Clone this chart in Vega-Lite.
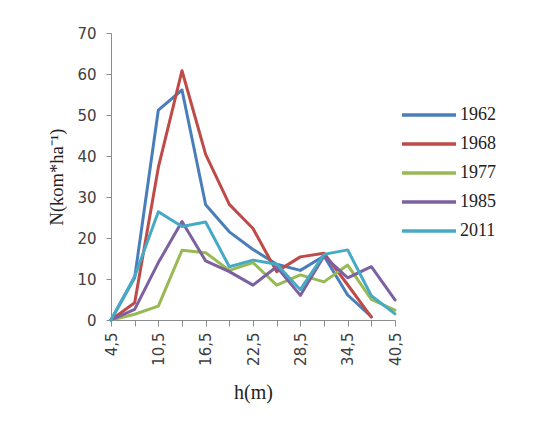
{
  "$schema": "https://vega.github.io/schema/vega-lite/v6.json",
  "width": 284,
  "height": 287,
  "padding": {"left": 47, "top": 26, "right": 5, "bottom": 5},
  "background": "white",
  "data": {"values": [
    {"year": "1962", "h": 4.5, "N": 0}, {"year": "1962", "h": 7.5, "N": 10.3}, {"year": "1962", "h": 10.5, "N": 51.2}, {"year": "1962", "h": 13.5, "N": 56.1}, {"year": "1962", "h": 16.5, "N": 28.1}, {"year": "1962", "h": 19.5, "N": 21.5}, {"year": "1962", "h": 22.5, "N": 17.2}, {"year": "1962", "h": 25.5, "N": 13.6}, {"year": "1962", "h": 28.5, "N": 12.1}, {"year": "1962", "h": 31.5, "N": 15.6}, {"year": "1962", "h": 34.5, "N": 6.1}, {"year": "1962", "h": 37.5, "N": 0.8},
    {"year": "1968", "h": 4.5, "N": 0}, {"year": "1968", "h": 7.5, "N": 4.2}, {"year": "1968", "h": 10.5, "N": 37.2}, {"year": "1968", "h": 13.5, "N": 60.8}, {"year": "1968", "h": 16.5, "N": 40.4}, {"year": "1968", "h": 19.5, "N": 28.2}, {"year": "1968", "h": 22.5, "N": 22.3}, {"year": "1968", "h": 25.5, "N": 11.8}, {"year": "1968", "h": 28.5, "N": 15.4}, {"year": "1968", "h": 31.5, "N": 16.3}, {"year": "1968", "h": 34.5, "N": 8.6}, {"year": "1968", "h": 37.5, "N": 0.7},
    {"year": "1977", "h": 4.5, "N": 0}, {"year": "1977", "h": 7.5, "N": 1.4}, {"year": "1977", "h": 10.5, "N": 3.4}, {"year": "1977", "h": 13.5, "N": 17}, {"year": "1977", "h": 16.5, "N": 16.4}, {"year": "1977", "h": 19.5, "N": 12.1}, {"year": "1977", "h": 22.5, "N": 14}, {"year": "1977", "h": 25.5, "N": 8.5}, {"year": "1977", "h": 28.5, "N": 11}, {"year": "1977", "h": 31.5, "N": 9.3}, {"year": "1977", "h": 34.5, "N": 13.4}, {"year": "1977", "h": 37.5, "N": 5}, {"year": "1977", "h": 40.5, "N": 2.4},
    {"year": "1985", "h": 4.5, "N": 0}, {"year": "1985", "h": 7.5, "N": 2.6}, {"year": "1985", "h": 10.5, "N": 14}, {"year": "1985", "h": 13.5, "N": 24}, {"year": "1985", "h": 16.5, "N": 14.4}, {"year": "1985", "h": 19.5, "N": 11.8}, {"year": "1985", "h": 22.5, "N": 8.5}, {"year": "1985", "h": 25.5, "N": 13}, {"year": "1985", "h": 28.5, "N": 6}, {"year": "1985", "h": 31.5, "N": 15.6}, {"year": "1985", "h": 34.5, "N": 10.3}, {"year": "1985", "h": 37.5, "N": 13}, {"year": "1985", "h": 40.5, "N": 4.9},
    {"year": "2011", "h": 4.5, "N": 0}, {"year": "2011", "h": 7.5, "N": 10.6}, {"year": "2011", "h": 10.5, "N": 26.4}, {"year": "2011", "h": 13.5, "N": 22.8}, {"year": "2011", "h": 16.5, "N": 23.9}, {"year": "2011", "h": 19.5, "N": 13}, {"year": "2011", "h": 22.5, "N": 14.6}, {"year": "2011", "h": 25.5, "N": 13.6}, {"year": "2011", "h": 28.5, "N": 7.4}, {"year": "2011", "h": 31.5, "N": 16}, {"year": "2011", "h": 34.5, "N": 17.1}, {"year": "2011", "h": 37.5, "N": 5.9}, {"year": "2011", "h": 40.5, "N": 1.5}
  ]},
  "mark": {"type": "line", "strokeWidth": 3, "strokeJoin": "round", "strokeCap": "round"},
  "encoding": {
    "x": {
      "field": "h", "type": "quantitative",
      "scale": {"domain": [4.5, 40.5], "nice": false, "zero": false},
      "axis": {
        "title": "h(m)",
        "values": [4.5, 7.5, 10.5, 13.5, 16.5, 19.5, 22.5, 25.5, 28.5, 31.5, 34.5, 37.5, 40.5],
        "labelExpr": "datum.value % 6 == 4.5 ? replace(format(datum.value, '.1f'), '.', ',') : ''",
        "labelAngle": 270,
        "labelFont": "DejaVu Sans", "labelFontSize": 15, "labelColor": "#404040", "labelPadding": 6,
        "labelOverlap": false, "labelFlush": false,
        "domainColor": "#8c8c8c", "tickColor": "#8c8c8c", "tickSize": 6, "grid": false,
        "titleFont": "Liberation Serif", "titleFontSize": 20, "titleFontWeight": "normal", "titleColor": "#222222", "titlePadding": 17
      }
    },
    "y": {
      "field": "N", "type": "quantitative",
      "scale": {"domain": [0, 70], "nice": false},
      "axis": {
        "title": "N(kom*ha⁻¹)",
        "values": [0, 10, 20, 30, 40, 50, 60, 70],
        "labelFont": "DejaVu Sans", "labelFontSize": 15, "labelColor": "#404040", "labelPadding": 10,
        "domainColor": "#8c8c8c", "tickColor": "#8c8c8c", "tickSize": 5, "grid": false,
        "titleFont": "Liberation Serif", "titleFontSize": 18.5, "titleFontWeight": "normal", "titleColor": "#222222", "titlePadding": 10
      }
    },
    "color": {
      "field": "year", "type": "nominal",
      "scale": {"domain": ["1962", "1968", "1977", "1985", "2011"], "range": ["#4A7EBB", "#BE4B48", "#98B954", "#7D60A0", "#46AAC5"]},
      "legend": {
        "title": null, "orient": "none", "legendX": 307, "legendY": 71,
        "symbolType": "M-3,0H3", "symbolSize": 324, "symbolStrokeWidth": 3.5,
        "labelFont": "Liberation Serif", "labelFontSize": 18, "labelColor": "#222222", "labelOffset": 20,
        "rowPadding": 9
      }
    }
  },
  "config": {"view": {"stroke": null}}
}
